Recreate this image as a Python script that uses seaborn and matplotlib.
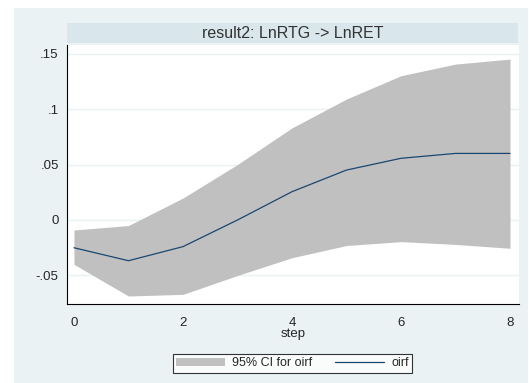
import matplotlib
matplotlib.use("Agg")
import matplotlib.pyplot as plt
import seaborn as sns
import pandas as pd
from matplotlib.patches import Rectangle, Patch
from matplotlib.lines import Line2D

# impulse response values
steps = [0, 1, 2, 3, 4, 5, 6, 7, 8]
oirf = [-0.025, -0.0367, -0.024, 0.0, 0.0255, 0.045, 0.0556, 0.060, 0.060]
ci_upper = [-0.009, -0.005, 0.0198, 0.050, 0.083, 0.109, 0.130, 0.1405, 0.145]
ci_lower = [-0.040, -0.0685, -0.067, -0.050, -0.034, -0.023, -0.0195, -0.022, -0.0255]

y_ticks = [-0.05, 0, 0.05, 0.1, 0.15]
y_tick_labels = ["-.05", "0", ".05", ".1", ".15"]
x_ticks = [0, 2, 4, 6, 8]

TITLE = "result2: LnRTG -> LnRET"
LINE_COLOR = "#1a476f"
FILL_COLOR = "#c0c0c0"
BG_COLOR = "#eaf2f3"
BAND_COLOR = "#d9e6eb"


def main():
    sns.set_style("white")
    plt.rcParams["font.family"] = ["Liberation Sans", "DejaVu Sans"]

    df = pd.DataFrame({"step": steps, "oirf": oirf,
                       "lo": ci_lower, "hi": ci_upper})

    fig = plt.figure(figsize=(5.29, 3.83), dpi=100)
    fig.patch.set_facecolor("white")
    # stata style outer background
    fig.patches.append(Rectangle((14 / 529, 0), 514 / 529, 375 / 383,
                                 transform=fig.transFigure,
                                 facecolor=BG_COLOR, edgecolor="none",
                                 zorder=-10))
    # title band
    fig.patches.append(Rectangle((67 / 529, 1 - 43 / 383), 451 / 529,
                                 20 / 383, transform=fig.transFigure,
                                 facecolor=BAND_COLOR, edgecolor="none",
                                 zorder=-5))
    fig.text((67 + 518) / 2 / 529, 1 - 33 / 383, TITLE, ha="center",
             va="center", fontsize=11.5, color="#333333")

    ax = fig.add_axes([67 / 529, 1 - 304 / 383, 452 / 529, 259 / 383])
    ax.set_facecolor("white")

    ax.fill_between(df["step"], df["lo"], df["hi"], color=FILL_COLOR,
                    linewidth=0, zorder=2)
    sns.lineplot(data=df, x="step", y="oirf", ax=ax, color=LINE_COLOR,
                 linewidth=0.9, zorder=3)

    for yt in y_ticks:
        ax.axhline(yt, color=BG_COLOR, linewidth=1, zorder=1)

    ax.set_xlim(-0.128, 8.165)
    ax.set_ylim(-0.0757, 0.1577)
    ax.set_xticks(x_ticks)
    ax.set_xticklabels([str(x) for x in x_ticks])
    ax.set_yticks(y_ticks)
    ax.set_yticklabels(y_tick_labels)
    ax.tick_params(axis="both", direction="out", length=4, width=0.8,
                   labelsize=9.5, color="black", pad=2)
    ax.tick_params(axis="x", pad=5)
    ax.set_xlabel("step", fontsize=9.5, labelpad=0)
    ax.set_ylabel("")

    for side in ["top", "right"]:
        ax.spines[side].set_visible(False)
    for side in ["left", "bottom"]:
        ax.spines[side].set_color("black")
        ax.spines[side].set_linewidth(0.8)

    handles = [Patch(facecolor=FILL_COLOR, edgecolor="none"),
               Line2D([0], [0], color=LINE_COLOR, linewidth=0.9)]
    leg = fig.legend(handles, ["95% CI for oirf", "oirf"], ncol=2,
                     loc="center", bbox_to_anchor=(292.5 / 529, 1 - 363.5 / 383),
                     fontsize=9, frameon=True, fancybox=False,
                     edgecolor="black", handlelength=3.9, handleheight=0.6,
                     handletextpad=0.6, columnspacing=1.8, borderpad=0.25)
    leg.get_frame().set_linewidth(0.8)
    leg.get_frame().set_facecolor("white")

    fig.savefig("out.png", dpi=100, facecolor=fig.get_facecolor())


if __name__ == "__main__":
    main()
